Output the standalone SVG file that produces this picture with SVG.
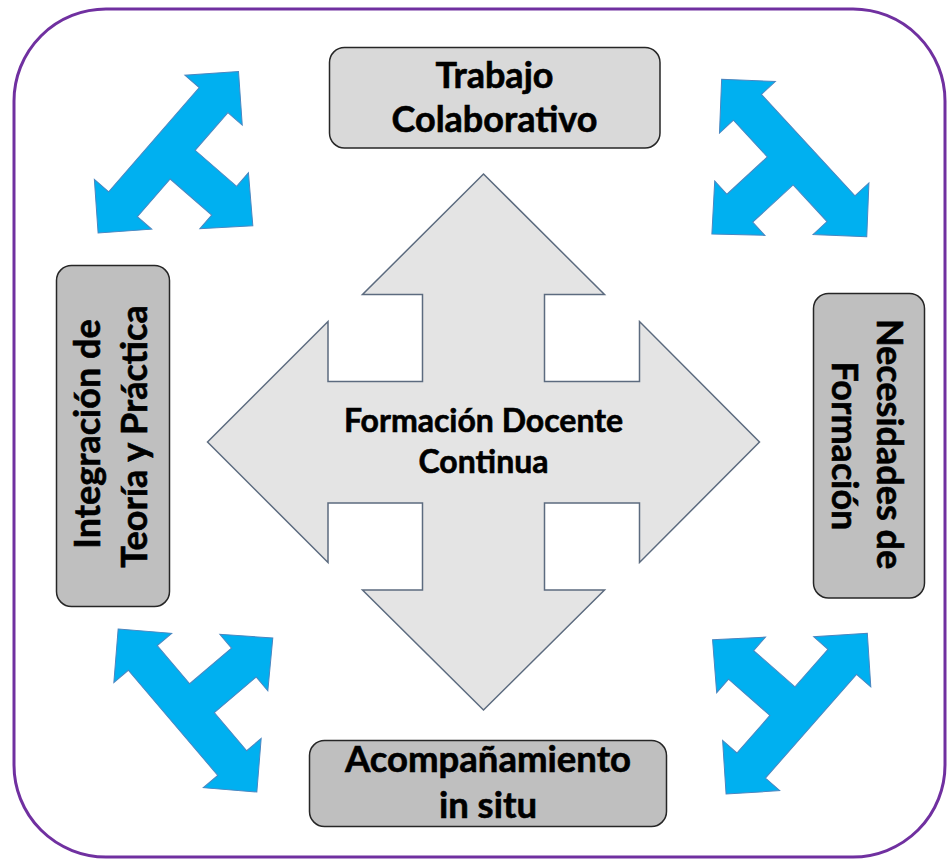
<svg xmlns="http://www.w3.org/2000/svg" width="948" height="861" viewBox="0 0 948 861">
<defs>
<style>
.lbl{font-family:Lato,"Open Sans","Liberation Sans",sans-serif;font-weight:bold;fill:#000;stroke:#000;stroke-width:0.6;text-anchor:middle}
.box{stroke:#262626;stroke-width:1.5}
.blue{fill:#00b0f0;stroke:#4a86c0;stroke-width:1}
</style>
<path id="tri" d="M107,0 L69,38 L69,19 L19,19 L19,74 L37,74 L0,112 L-37,74 L-19,74 L-19,19 L-69,19 L-69,38 L-107,0 L-69,-38 L-69,-19 L69,-19 L69,-38 Z"/>
</defs>
<rect width="948" height="861" fill="#fff"/>
<rect id="frame" x="14" y="9" width="931" height="848" rx="92" ry="92" fill="none" stroke="#7030a0" stroke-width="3"/>
<g id="connectors">
<use href="#tri" class="blue" transform="translate(168.3,152.2) rotate(-49)"/>
<use href="#tri" class="blue" transform="translate(794.2,158) rotate(47.3)"/>
<use href="#tri" class="blue" transform="translate(187.5,710.5) rotate(229.6)"/>
<use href="#tri" class="blue" transform="translate(796.7,713.7) rotate(131.3)"/>
</g>
<g id="center">
<path d="M483.5,174 L604.5,294.5 L544.5,294.5 L544.5,381.5 L639.5,381.5 L639.5,321.5 L759.5,442 L639.5,562.5 L639.5,503 L544.5,503 L544.5,590 L604.5,590 L483.5,710 L362.5,590 L422.5,590 L422.5,503 L328,503 L328,562.5 L207.5,442 L328,321.5 L328,381.5 L422.5,381.5 L422.5,294.5 L362.5,294.5 Z" fill="#e4e4e4" stroke="#5c6b7f" stroke-width="1.5"/>
<text class="lbl" x="483.5" y="432" font-size="32">Formación Docente</text>
<text class="lbl" x="483.5" y="473" font-size="32">Continua</text>
</g>
<g id="top">
<rect class="box" x="329.5" y="47.5" width="330.5" height="100.5" rx="15" fill="#d9d9d9"/>
<text class="lbl" x="494.5" y="88" font-size="36">Trabajo</text>
<text class="lbl" x="494.5" y="132" font-size="36">Colaborativo</text>
</g>
<g id="bottom">
<rect class="box" x="309.5" y="740.5" width="357" height="86" rx="15" fill="#bfbfbf"/>
<text class="lbl" x="488" y="772" font-size="36.5">Acompañamiento</text>
<text class="lbl" x="488" y="818" font-size="36.5">in situ</text>
</g>
<g id="left">
<rect class="box" x="56.5" y="265.5" width="113" height="341" rx="15" fill="#bfbfbf"/>
<text class="lbl" font-size="36" transform="translate(100,434) rotate(-90)">Integración de</text>
<text class="lbl" font-size="36" transform="translate(147,436.5) rotate(-90)">Teoría y Práctica</text>
</g>
<g id="right">
<rect class="box" x="813.5" y="293.5" width="111" height="304.5" rx="15" fill="#bfbfbf"/>
<text class="lbl" font-size="36" transform="translate(877,444) rotate(90)">Necesidades de</text>
<text class="lbl" font-size="36" transform="translate(832,446) rotate(90)">Formación</text>
</g>
</svg>
